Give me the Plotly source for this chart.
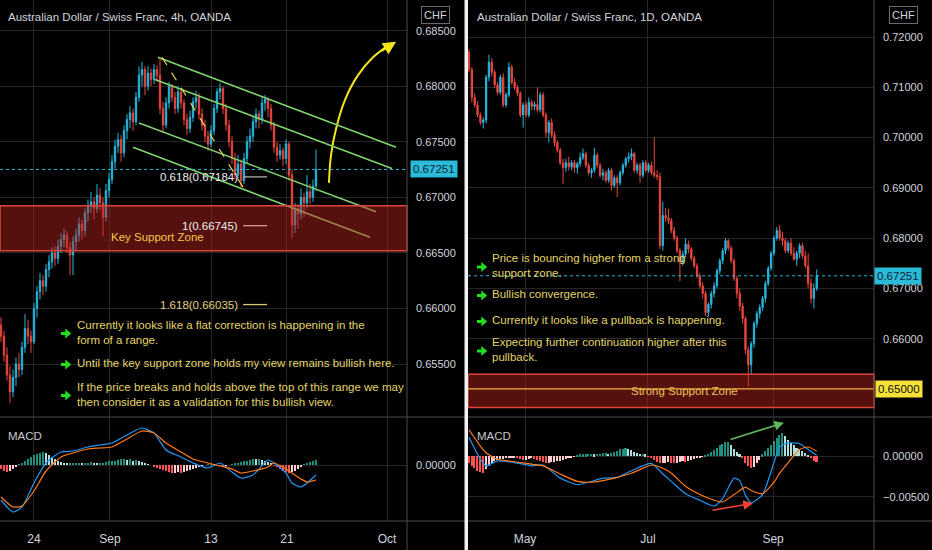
import plotly.graph_objects as go

# ---------------- left pane : AUDCHF 4h (prices in pips) ----------------
l_open = [6585, 6575, 6558, 6540, 6525, 6538, 6550, 6545, 6565, 6582,
          6575, 6570, 6600, 6615, 6625, 6620, 6635, 6642, 6650, 6645,
          6656, 6662, 6666, 6655, 6648, 6660, 6666, 6676, 6670, 6686,
          6692, 6696, 6690, 6702, 6695, 6682, 6706, 6716, 6732, 6746,
          6752, 6740, 6760, 6770, 6776, 6768, 6790, 6810, 6815, 6800,
          6812, 6806, 6815, 6810, 6780, 6765, 6785, 6800, 6790, 6780,
          6795, 6785, 6770, 6762, 6772, 6786, 6790, 6775, 6765, 6755,
          6748, 6760, 6780, 6795, 6798, 6780, 6765, 6750, 6735, 6720,
          6730, 6715, 6735, 6750, 6755, 6768, 6775, 6770, 6785, 6788,
          6780, 6765, 6745, 6738, 6742, 6735, 6748, 6720, 6675, 6690,
          6685, 6700, 6695, 6705, 6700, 6710]
l_high = [6592, 6580, 6565, 6548, 6545, 6556, 6560, 6570, 6595, 6590,
          6580, 6605, 6620, 6632, 6630, 6640, 6648, 6655, 6656, 6662,
          6668, 6672, 6670, 6660, 6665, 6672, 6682, 6680, 6690, 6698,
          6705, 6700, 6712, 6708, 6700, 6712, 6722, 6738, 6752, 6758,
          6756, 6765, 6775, 6782, 6780, 6795, 6818, 6822, 6818, 6818,
          6816, 6820, 6819, 6826, 6786, 6790, 6804, 6802, 6795, 6800,
          6798, 6788, 6775, 6778, 6790, 6796, 6794, 6780, 6770, 6760,
          6765, 6784, 6798, 6803, 6800, 6784, 6770, 6755, 6740, 6738,
          6734, 6740, 6755, 6762, 6772, 6780, 6778, 6790, 6792, 6790,
          6784, 6768, 6750, 6748, 6745, 6752, 6750, 6725, 6695, 6694,
          6708, 6704, 6720, 6712, 6716, 6743]
l_low = [6570, 6552, 6535, 6515, 6520, 6530, 6538, 6540, 6560, 6568,
         6560, 6568, 6592, 6608, 6612, 6615, 6628, 6636, 6638, 6640,
         6650, 6655, 6650, 6630, 6630, 6652, 6660, 6662, 6665, 6678,
         6686, 6680, 6686, 6688, 6665, 6678, 6700, 6712, 6726, 6740,
         6732, 6736, 6752, 6762, 6760, 6765, 6786, 6800, 6792, 6796,
         6800, 6802, 6804, 6775, 6758, 6762, 6780, 6786, 6775, 6776,
         6780, 6765, 6756, 6758, 6768, 6780, 6770, 6760, 6750, 6742,
         6745, 6756, 6776, 6788, 6775, 6760, 6745, 6730, 6716, 6715,
         6709, 6712, 6730, 6744, 6750, 6762, 6762, 6766, 6778, 6772,
         6760, 6740, 6732, 6734, 6728, 6730, 6715, 6663, 6668, 6672,
         6680, 6682, 6690, 6694, 6696, 6706]
l_close = [6575, 6558, 6540, 6525, 6538, 6550, 6545, 6565, 6582, 6575,
           6570, 6600, 6615, 6625, 6620, 6635, 6642, 6650, 6645, 6656,
           6662, 6666, 6655, 6648, 6660, 6666, 6676, 6670, 6686, 6692,
           6696, 6690, 6702, 6695, 6682, 6706, 6716, 6732, 6746, 6752,
           6740, 6760, 6770, 6776, 6768, 6790, 6810, 6815, 6800, 6812,
           6806, 6815, 6810, 6780, 6765, 6785, 6800, 6790, 6780, 6795,
           6785, 6770, 6762, 6772, 6786, 6790, 6775, 6765, 6755, 6748,
           6760, 6780, 6795, 6798, 6780, 6765, 6750, 6735, 6720, 6730,
           6715, 6735, 6750, 6755, 6768, 6775, 6770, 6785, 6788, 6780,
           6765, 6745, 6738, 6742, 6735, 6748, 6720, 6675, 6690, 6685,
           6700, 6695, 6705, 6700, 6710, 6725.1]

# MACD (units of 1e-5)
l_macd_idx = [0, 4, 7, 11, 15, 20, 24, 29, 33, 37, 42, 47, 51, 55, 60, 64, 69, 73,
              77, 80, 84, 89, 91, 95, 97, 100, 102, 105]
l_macd = [-175, -235, -210, -90, 10, 65, 70, 90, 100, 110, 150, 185, 160, 75, 40, 10,
          -15, 10, -35, -65, -50, 25, 10, -40, -90, -110, -90, -50]
l_signal = [-160, -210, -205, -130, -30, 40, 60, 80, 85, 90, 130, 170, 160, 110, 65, 30,
            10, -5, -20, -40, -30, -10, 10, -20, -40, -70, -85, -75]
l_hist = [-20, -30, -35, -30, -20, -10, 5, 10, 20, 30, 40, 50, 55, 60, 65,
          60, 50, 40, 30, 20, 15, 10, 8, 8, 10, 10, 12, 10, 10, 12, 15, 12, 10, 10, 12, 15, 18,
          20, 22, 25, 28, 30, 25, 28, 20, 25, 20, 15, 10, 5, 0,
          -10, -15, -20, -25, -30, -35, -40, -40, -35, -40, -35, -30, -25, -20, -15, -10,
          -5, 0, 3, 5, 3, 0, -3, -5, -3, 0, 5,
          10, 12, 15, 20, 22, 25, 30, 28, 30, 25, 20, 15, 10,
          -5, -10, -20, -30, -35, -40, -35, -30, -20, -10,
          5, 10, 15, 20, 25]

l_ticks = [11, 36.3, 70, 95.3, 128.7]
l_ticklabels = ["24", "Sep", "13", "21", "Oct"]

# drawings on the 4h chart (bar index, price)
l_channel_x0 = [52.3, 51.3, 46.0, 44.0]
l_channel_y0 = [0.6826, 0.6806, 0.6767, 0.6745]
l_channel_x1 = [131.7, 130.3, 125.0, 123.0]
l_channel_y1 = [0.6745, 0.6726, 0.6687, 0.6664]
fib_names = ["0.618", "1", "1.618"]
fib_prices = [0.67184, 0.66745, 0.66035]
key_zone = [0.66519, 0.66924]
curve_x = [109.3, 110.0, 111.7, 114.7, 119.0, 124.0, 130.3]
curve_y = [0.6713, 0.6738, 0.6762, 0.6788, 0.6810, 0.6826, 0.6839]

# ---------------- right pane : AUDCHF 1D ----------------
r_open = [7170, 7135, 7080, 7065, 7045, 7030, 7035, 7120, 7150, 7130,
          7105, 7090, 7120, 7065, 7085, 7140, 7110, 7100, 7088, 7045,
          7065, 7045, 7070, 7062, 7066, 7055, 7085, 7045, 7010, 7030,
          7005, 6990, 6975, 6950, 6940, 6950, 6942, 6950, 6940, 6948,
          6960, 6968, 6945, 6930, 6935, 6965, 6945, 6925, 6930, 6915,
          6935, 6905, 6920, 6910, 6930, 6945, 6958, 6962, 6968, 6935,
          6945, 6925, 6950, 6935, 6945, 6930, 6925, 6922, 6785, 6845,
          6840, 6835, 6815, 6800, 6775, 6752, 6768, 6788, 6778, 6760,
          6745, 6725, 6705, 6690, 6652, 6668, 6690, 6705, 6735, 6755,
          6775, 6795, 6780, 6755, 6720, 6690, 6665, 6640, 6578, 6548,
          6590, 6630, 6650, 6662, 6680, 6710, 6740, 6770, 6800, 6815,
          6800, 6795, 6775, 6790, 6770, 6758, 6770, 6785, 6765, 6745,
          6710, 6680, 6700]
r_high = [7176, 7140, 7088, 7072, 7050, 7040, 7125, 7165, 7158, 7135,
          7110, 7125, 7128, 7090, 7150, 7145, 7118, 7105, 7092, 7070,
          7072, 7080, 7075, 7072, 7100, 7090, 7090, 7050, 7035, 7038,
          7012, 6995, 6980, 6958, 6958, 6962, 6955, 6956, 6952, 6970,
          6978, 6972, 6950, 6940, 6980, 6970, 6950, 6938, 6935, 6940,
          6940, 6925, 6925, 6935, 6950, 6962, 6970, 6978, 6972, 6950,
          6950, 6955, 6955, 6950, 6952, 7000, 6935, 6930, 6872, 6860,
          6858, 6840, 6822, 6805, 6780, 6775, 6800, 6795, 6782, 6765,
          6750, 6730, 6712, 6695, 6672, 6695, 6712, 6740, 6760, 6780,
          6800, 6798, 6785, 6760, 6725, 6700, 6672, 6645, 6585, 6595,
          6635, 6655, 6668, 6685, 6715, 6745, 6775, 6805, 6822, 6826,
          6812, 6800, 6795, 6800, 6782, 6775, 6790, 6790, 6775, 6770,
          6720, 6710, 6738]
r_low = [7130, 7070, 7060, 7040, 7025, 7018, 7028, 7112, 7122, 7098,
         7085, 7085, 7060, 7060, 7080, 7105, 7095, 7082, 7040, 7020,
         7040, 7040, 7055, 7055, 7050, 7050, 7040, 7000, 6990, 7000,
         6982, 6970, 6945, 6908, 6932, 6935, 6935, 6930, 6928, 6942,
         6955, 6940, 6925, 6920, 6930, 6940, 6920, 6915, 6910, 6910,
         6895, 6900, 6882, 6905, 6925, 6940, 6950, 6955, 6930, 6928,
         6910, 6920, 6930, 6930, 6925, 6920, 6915, 6778, 6775, 6832,
         6828, 6810, 6795, 6770, 6714, 6745, 6762, 6770, 6755, 6740,
         6720, 6700, 6680, 6645, 6645, 6660, 6682, 6700, 6728, 6748,
         6768, 6775, 6750, 6715, 6680, 6655, 6630, 6570, 6505, 6530,
         6582, 6622, 6640, 6655, 6672, 6705, 6735, 6765, 6795, 6795,
         6785, 6770, 6770, 6765, 6755, 6745, 6760, 6760, 6740, 6700,
         6670, 6660, 6695]
r_close = [7135, 7080, 7065, 7045, 7030, 7035, 7120, 7150, 7130, 7105,
           7090, 7120, 7065, 7085, 7140, 7110, 7100, 7088, 7045, 7065,
           7045, 7070, 7062, 7066, 7055, 7085, 7045, 7010, 7030, 7005,
           6990, 6975, 6950, 6940, 6950, 6942, 6950, 6940, 6948, 6960,
           6968, 6945, 6930, 6935, 6965, 6945, 6925, 6930, 6915, 6935,
           6905, 6920, 6910, 6930, 6945, 6958, 6962, 6968, 6935, 6945,
           6925, 6950, 6935, 6945, 6930, 6925, 6922, 6785, 6845, 6840,
           6835, 6815, 6800, 6775, 6752, 6768, 6788, 6778, 6760, 6745,
           6725, 6705, 6690, 6652, 6668, 6690, 6705, 6735, 6755, 6775,
           6795, 6780, 6755, 6720, 6690, 6665, 6640, 6578, 6548, 6590,
           6630, 6650, 6662, 6680, 6710, 6740, 6770, 6800, 6815, 6800,
           6795, 6775, 6790, 6770, 6758, 6770, 6785, 6765, 6745, 6710,
           6680, 6700, 6725.1]

r_macd_idx = [0, 4, 6, 10, 16, 22, 26, 32, 38, 42, 47, 52, 57, 64, 68, 71, 76, 81, 86,
              89, 93, 95, 97, 99, 103, 107, 109, 112, 116, 119, 122]
r_macd = [230, -40, -120, -60, -80, -120, -110, -270, -350, -320, -270, -260, -180, -90,
          -220, -310, -460, -540, -610, -520, -270, -300, -480, -570, -470, -80, 110, 160,
          150, 80, 10]
r_signal = [320, 120, 40, -40, -70, -100, -120, -220, -310, -320, -300, -260, -210, -110,
            -150, -210, -370, -470, -540, -560, -470, -420, -380, -420, -460, -320, -210,
            -80, 80, 110, 60]
r_hist = [-80, -120, -150, -180, -200, -210, -160,
          -120, -80, -60, -50, -40, -40, -30, -30, -20, -20, -30, -40, -50, -50, -40, -30,
          -40, -50, -60, -70,
          -80, -80, -70, -70, -60, -60, -50, -40, -30, -20, -10,
          10, 20, 20, 20, 30, 30, 20, 30, 30, 40, 40, 30, 40, 50, 60, 80, 90, 100, 90, 70,
          50, 40, 30, 30, 20,
          -10, -30, -50, -70, -90, -80, -80, -70, -80, -90, -80, -70, -60, -70, -60, -50,
          -40, -30, -20, -10,
          10, 30, 50, 70, 100, 130, 150, 170, 170, 130, 90, 50, 20,
          -30, -80, -120, -150, -130, -90, -50,
          20, 60, 100, 140, 180, 220, 260, 280, 240,
          200, 160, 130, 100, 80, 60, 40, 10,
          -30, -60, -70]

r_ticks = [19.65, 62.8, 106.7]
r_ticklabels = ["May", "Jul", "Sep"]
r_price_ticks = [0.66, 0.67, 0.68, 0.69, 0.70, 0.71, 0.72]

strong_zone = [0.6463, 0.6529]
support_level = 0.65
last_price = 0.67251

# ---------------- styling ----------------
W, H = 932, 550
BG = "#000000"
GRID = "#252525"
SEP = "#4a4a4a"
TXT = "#d1d4dc"
UP = "#27b7de"
DOWN = "#e8473f"
NOTE = "#e3d46a"
ARROW_GREEN = "#22dd22"
FONT = "Liberation Sans, Arial, sans-serif"


def px(x):
    return x / W


def py(y):
    return 1 - y / H


def hist_colors(vals):
    cols = []
    prev = 0
    for v in vals:
        if v >= 0:
            cols.append("#1f8f7e" if v >= prev else "#b2dfdb")
        else:
            cols.append("#ff5252" if v < prev else "#ffcdd2")
        prev = v
    return cols


left_x = list(range(len(l_close)))
right_x = list(range(len(r_close)))

fig = go.Figure()


def candles(x, o, h, l, c, xa, ya):
    return go.Candlestick(
        x=x, open=[v / 1e4 for v in o], high=[v / 1e4 for v in h],
        low=[v / 1e4 for v in l], close=[v / 1e4 for v in c],
        xaxis=xa, yaxis=ya, showlegend=False, hoverinfo="skip",
        increasing=dict(line=dict(color=UP, width=1), fillcolor=UP),
        decreasing=dict(line=dict(color=DOWN, width=1), fillcolor=DOWN),
    )


fig.add_trace(candles(left_x, l_open, l_high, l_low, l_close, "x", "y"))
fig.add_trace(candles(right_x, r_open, r_high, r_low, r_close, "x3", "y3"))

for xs, hist, idx, macd, sig, xa, ya in [
    (left_x, l_hist, l_macd_idx, l_macd, l_signal, "x2", "y2"),
    (right_x, r_hist, r_macd_idx, r_macd, r_signal, "x4", "y4"),
]:
    fig.add_trace(go.Bar(x=xs, y=[v / 1e5 for v in hist], marker_color=hist_colors(hist),
                         marker_line_width=0, width=0.55, xaxis=xa, yaxis=ya,
                         showlegend=False, hoverinfo="skip"))
    fig.add_trace(go.Scatter(x=idx, y=[v / 1e5 for v in macd], mode="lines",
                             line=dict(color="#2196f3", width=1.2, shape="spline", smoothing=0.6),
                             xaxis=xa, yaxis=ya, showlegend=False, hoverinfo="skip"))
    fig.add_trace(go.Scatter(x=idx, y=[v / 1e5 for v in sig], mode="lines",
                             line=dict(color="#ff7a1a", width=1.2, shape="spline", smoothing=0.6),
                             xaxis=xa, yaxis=ya, showlegend=False, hoverinfo="skip"))

# yellow projection curve
fig.add_trace(go.Scatter(x=curve_x, y=curve_y, mode="lines",
                         line=dict(color="#f2e51c", width=2, shape="spline"),
                         xaxis="x", yaxis="y", showlegend=False, hoverinfo="skip"))

shapes = []
# channel
for x0, y0, x1, y1 in zip(l_channel_x0, l_channel_y0, l_channel_x1, l_channel_y1):
    shapes.append(dict(type="line", xref="x", yref="y", x0=x0, y0=y0, x1=x1, y1=y1,
                       line=dict(color="#7fd36f", width=1.6)))
# fib dashed leg
shapes.append(dict(type="line", xref="x", yref="y", x0=53.7, y0=0.6826, x1=80.7, y1=0.6709,
                   line=dict(color="#e8d84a", width=1.2, dash="dash")))
fib_colors = ["#b0b0b0", "#f0f0f0", "#d8c878"]
for p, col in zip(fib_prices, fib_colors):
    shapes.append(dict(type="line", xref="x", yref="y", x0=80.7, x1=88.7, y0=p, y1=p,
                       line=dict(color=col, width=1.3)))
# zones
shapes.append(dict(type="rect", xref="x domain", yref="y", x0=0, x1=1,
                   y0=key_zone[0], y1=key_zone[1], fillcolor="rgba(190,35,30,0.45)",
                   line=dict(color="#e0453c", width=1.5)))
shapes.append(dict(type="rect", xref="x3 domain", yref="y3", x0=0, x1=1,
                   y0=strong_zone[0], y1=strong_zone[1], fillcolor="rgba(190,35,30,0.45)",
                   line=dict(color="#e0453c", width=1.5)))
shapes.append(dict(type="line", xref="x3 domain", yref="y3", x0=0, x1=1,
                   y0=support_level, y1=support_level, line=dict(color="#f2b23a", width=1.2)))
# last price dotted lines
for xr, yr in [("x domain", "y"), ("x3 domain", "y3")]:
    shapes.append(dict(type="line", xref=xr, yref=yr, x0=0, x1=1, y0=last_price, y1=last_price,
                       line=dict(color="#26b8d8", width=1, dash="dot")))
# pane separators
for y in [417, 521]:
    shapes.append(dict(type="line", xref="paper", yref="paper", x0=0, x1=px(465),
                       y0=py(y), y1=py(y), line=dict(color=SEP, width=1)))
    shapes.append(dict(type="line", xref="paper", yref="paper", x0=px(468), x1=1,
                       y0=py(y), y1=py(y), line=dict(color=SEP, width=1)))
for x in [407, 874]:
    shapes.append(dict(type="line", xref="paper", yref="paper", x0=px(x), x1=px(x),
                       y0=0, y1=1, line=dict(color=SEP, width=1)))
shapes.append(dict(type="rect", xref="paper", yref="paper", x0=px(464.5), x1=px(468),
                   y0=0, y1=1, fillcolor="#f2f2f2", line=dict(width=0)))

ann = []


def text(x, y, s, color=TXT, size=12, xanchor="left", family=FONT, **kw):
    ann.append(dict(xref="paper", yref="paper", x=px(x), y=py(y), text=s, showarrow=False,
                    font=dict(color=color, size=size, family=family), xanchor=xanchor,
                    yanchor="middle", align="left", **kw))


def bullet(tip, y):
    # thick green pointer in front of every note: shaft + triangular head
    shapes.append(dict(type="line", xref="paper", yref="paper", x0=px(tip - 10), x1=px(tip - 4),
                       y0=py(y), y1=py(y), line=dict(color=ARROW_GREEN, width=3)))
    path = "M %.5f,%.5f L %.5f,%.5f L %.5f,%.5f Z" % (
        px(tip - 5.5), py(y - 4.5), px(tip), py(y), px(tip - 5.5), py(y + 4.5))
    shapes.append(dict(type="path", xref="paper", yref="paper", path=path,
                       fillcolor=ARROW_GREEN, line=dict(color=ARROW_GREEN, width=0.5)))


text(6, 17, "Australian Dollar / Swiss Franc, 4h, OANDA", size=11.5)
text(475, 17, "Australian Dollar / Swiss Franc, 1D, OANDA", size=11.5)
for cx in [435, 903]:
    text(cx, 15, "CHF", size=11, xanchor="center", bordercolor="#6a6a6a", borderwidth=1,
         borderpad=2, bgcolor=BG)
text(6, 436, "MACD", color="#c8c8c8", size=11.5)
text(475, 436, "MACD", color="#c8c8c8", size=11.5)

# fib labels
for name, p, col in zip(fib_names, fib_prices, ["#ededed", "#ededed", "#e0d080"]):
    ann.append(dict(xref="x", yref="y", x=79.5, y=p, text="%s(%.5f)" % (name, p),
                    showarrow=False, xanchor="right", yanchor="middle",
                    font=dict(color=col, size=11.5, family=FONT)))

text(109, 237, "Key Support Zone", color="#f2c94c", size=11.5)
text(684, 391, "Strong Support Zone", color="#e9c55a", size=11.5, xanchor="center")

# notes
left_notes = [(332, "Currently it looks like a flat correction is happening in the<br>form of a range."),
              (363, "Until the key support zone holds my view remains bullish here."),
              (394, "If the price breaks and holds above the top of this range we may<br>then consider it as a validation for this bullish view.")]
for y, s in left_notes:
    bullet(71, y + 1.5)
    text(75, y, s, color=NOTE, size=11.5)
right_notes = [(265.5, "Price is bouncing higher from a strong<br>support zone."),
               (294, "Bullish convergence."),
               (320, "Currently it looks like a pullback is happening."),
               (349.5, "Expecting further continuation higher after this<br>pullback.")]
for y, s in right_notes:
    bullet(487, y + 1.5)
    text(490, y, s, color=NOTE, size=11.5)

# price labels on the axes
for xr, yr, cx in [("paper", "y", 434), ("paper", "y3", 898)]:
    ann.append(dict(xref=xr, yref=yr, x=px(cx), y=last_price, text="0.67251", showarrow=False,
                    xanchor="center", yanchor="middle", bgcolor="#2bbad8", borderpad=2,
                    font=dict(color="#0d2236", size=11.5, family=FONT)))
ann.append(dict(xref="paper", yref="y3", x=px(899), y=support_level, text="0.65000",
                showarrow=False, xanchor="center", yanchor="middle", bgcolor="#f4e23a",
                borderpad=2, font=dict(color="#111111", size=11.5, family=FONT)))

# arrows
ann.append(dict(xref="x", yref="y", x=131.7, y=0.6840, ax=-16, ay=10, text="", showarrow=True,
                arrowhead=2, arrowsize=1.3, arrowwidth=2, arrowcolor="#f2e51c"))
ann.append(dict(xref="x4", yref="y4", axref="x4", ayref="y4", x=110.5, y=0.00406,
                ax=91.2, ay=0.00197, text="", showarrow=True, arrowhead=2, arrowsize=1.2,
                arrowwidth=1.6, arrowcolor="#5cb85c"))
ann.append(dict(xref="x4", yref="y4", axref="x4", ayref="y4", x=99.6, y=-0.00578,
                ax=84.9, ay=-0.00664, text="", showarrow=True, arrowhead=2, arrowsize=1.2,
                arrowwidth=1.6, arrowcolor="#f44336"))

price_dom = [py(417), 1]
macd_dom = [py(521), py(417)]
left_dom = [0, px(407)]
right_dom = [px(468), px(874)]

xcommon = dict(showgrid=True, gridcolor=GRID, gridwidth=1, zeroline=False, showline=False,
               ticks="", tickfont=dict(color=TXT, size=12, family=FONT), ticklabelstandoff=9,
               fixedrange=True)
ycommon = dict(side="right", showgrid=True, gridcolor=GRID, gridwidth=1, zeroline=False,
               showline=False, ticks="", tickformat=".5f", ticklabelstandoff=8,
               tickfont=dict(color=TXT, size=11, family=FONT), fixedrange=True)

fig.update_layout(
    width=W, height=H, margin=dict(l=0, r=0, t=0, b=0),
    paper_bgcolor=BG, plot_bgcolor=BG, showlegend=False, hovermode=False,
    bargap=0, boxgap=0.35,
    xaxis=dict(xcommon, domain=left_dom, anchor="y", range=[-0.33, 135.33],
               tickvals=l_ticks, showticklabels=False, rangeslider=dict(visible=False)),
    yaxis=dict(ycommon, domain=price_dom, anchor="x", range=[0.65023, 0.68776], dtick=0.005,
               tick0=0.655),
    xaxis2=dict(xcommon, domain=left_dom, anchor="y2", matches="x", tickvals=l_ticks,
                ticktext=l_ticklabels),
    yaxis2=dict(ycommon, domain=macd_dom, anchor="x2", range=[-0.0028, 0.0024], tickvals=[0]),
    xaxis3=dict(xcommon, domain=right_dom, anchor="y3", range=[-0.35, 142.1],
                tickvals=r_ticks, showticklabels=False, rangeslider=dict(visible=False)),
    yaxis3=dict(ycommon, domain=price_dom, anchor="x3", range=[0.64442, 0.72737],
                tickvals=r_price_ticks),
    xaxis4=dict(xcommon, domain=right_dom, anchor="y4", matches="x3", tickvals=r_ticks,
                ticktext=r_ticklabels),
    yaxis4=dict(ycommon, domain=macd_dom, anchor="x4", range=[-0.00793, 0.00476],
                tickvals=[0, -0.005]),
    shapes=shapes,
    annotations=ann,
)

fig.write_html("out.html", config=dict(displayModeBar=False),
               post_script="document.body.style.margin='0';document.body.style.overflow='hidden';")
